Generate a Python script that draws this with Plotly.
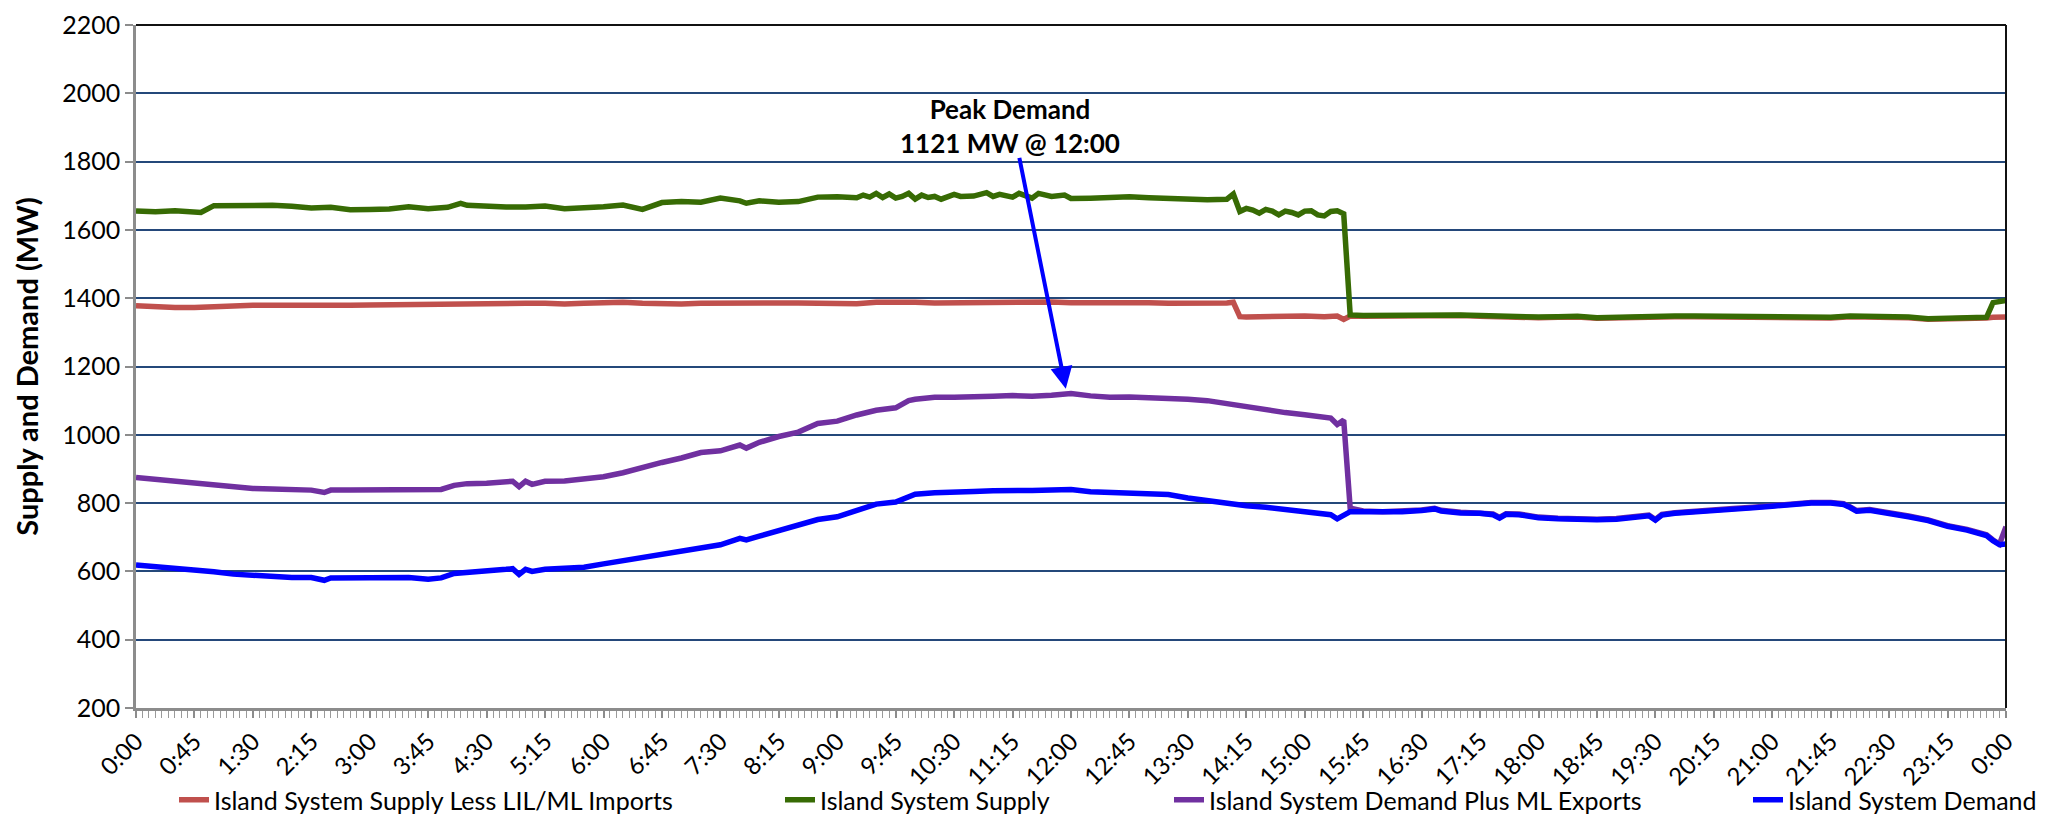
import plotly.graph_objects as go

# ---------------- data (time in minutes after midnight, values in MW) ----------------
t_red = [0, 15, 30, 45, 60, 75, 90, 105, 120, 135, 150, 165, 180, 195, 210, 225, 240, 255, 270, 285, 300, 315, 330, 345, 360,
         375, 390, 405, 420, 435, 450, 465, 480, 495, 510, 525, 540, 555, 570, 585, 600, 615, 630, 645, 660, 675, 690, 705, 720,
         735, 750, 765, 780, 795, 810, 825, 840, 845,
         850, 855, 870, 885, 900, 915, 925, 930, 935,
         945, 960, 975, 990, 1005, 1020, 1035, 1050, 1065, 1080, 1095, 1110, 1125, 1140, 1155, 1170, 1185, 1200, 1215, 1230,
         1245, 1260, 1275, 1290, 1305, 1320, 1335, 1350, 1365, 1380, 1395, 1410, 1425, 1430, 1440]
red = [1378, 1374, 1373, 1373, 1376, 1377, 1379, 1379, 1378, 1378, 1379, 1379, 1380, 1381, 1383, 1381, 1385, 1384, 1384, 1387, 1385, 1385, 1383, 1385, 1388,
       1388, 1385, 1383, 1383, 1385, 1386, 1383, 1387, 1386, 1386, 1385, 1384, 1384, 1388, 1389, 1388, 1386, 1387, 1388, 1390, 1389, 1391, 1389, 1387,
       1388, 1388, 1390, 1387, 1385, 1384, 1385, 1386, 1388,
       1346, 1345, 1347, 1347, 1348, 1346, 1348, 1338, 1348,
       1347, 1348, 1349, 1351, 1352, 1349, 1347, 1345, 1344, 1343, 1344, 1345, 1341, 1343, 1343, 1344, 1346, 1346, 1345, 1346,
       1346, 1346, 1345, 1340, 1342, 1346, 1345, 1346, 1343, 1338, 1338, 1341, 1342, 1344, 1345]

t_green = [0, 15, 30, 45, 50, 60, 75, 90, 105, 120, 135, 150, 165, 180, 195, 210, 225, 240, 250, 255, 270, 285, 300, 315, 330, 345, 360,
           375, 390, 405, 420, 435, 450, 465, 470, 480, 495, 510, 525, 540, 555,
           560, 565, 570, 575, 580, 585, 590, 595, 600, 605, 610, 615, 620, 630, 635, 645, 655, 660, 665, 675, 680, 690, 695, 705, 715, 720,
           735, 750, 765, 780, 795, 810, 825, 840, 845, 850, 855, 860, 865, 870, 875, 880, 885, 890, 895, 900, 905, 910, 915, 920, 925, 930, 935,
           945, 960, 975, 990, 1005, 1020, 1035, 1050, 1065, 1080, 1095, 1110, 1125, 1140, 1155, 1170, 1185, 1200, 1215, 1230,
           1245, 1260, 1275, 1290, 1305, 1320, 1335, 1350, 1365, 1380, 1395, 1410, 1425, 1430, 1440]
green = [1655, 1653, 1656, 1653, 1651, 1671, 1672, 1671, 1672, 1669, 1664, 1666, 1659, 1660, 1661, 1668, 1662, 1666, 1678, 1672, 1668, 1667, 1667, 1670, 1662, 1663, 1668,
         1673, 1660, 1680, 1683, 1681, 1693, 1685, 1678, 1685, 1681, 1683, 1696, 1697, 1694,
         1702, 1696, 1707, 1695, 1705, 1693, 1698, 1707, 1690, 1702, 1695, 1698, 1690, 1704, 1698, 1699, 1709, 1698, 1704, 1696, 1707, 1693, 1707, 1698, 1702, 1692,
         1693, 1695, 1697, 1694, 1692, 1689, 1688, 1690, 1705, 1654, 1663, 1658, 1649, 1660, 1655, 1644, 1655, 1651, 1644, 1655, 1656, 1644, 1641, 1654, 1656, 1647, 1351,
         1349, 1350, 1351, 1353, 1354, 1351, 1349, 1347, 1346, 1345, 1346, 1347, 1343, 1345, 1345, 1346, 1348, 1348, 1347, 1348,
         1348, 1348, 1347, 1342, 1344, 1348, 1347, 1348, 1345, 1340, 1340, 1343, 1344, 1387, 1393]

t_purple = [0, 15, 30, 45, 60, 75, 90, 105, 120, 135, 145, 150, 165, 180, 195, 210, 225, 235, 245, 255, 270, 285, 290, 295, 300, 305, 315, 330, 345, 360,
            375, 390, 405, 420, 435, 450, 465, 470, 480, 495, 510, 525, 540, 555, 570, 585, 595, 600, 615, 630, 645, 660, 675, 690, 705, 720,
            735, 750, 765, 780, 795, 810, 825, 840, 855, 870, 885, 900, 915, 920, 925, 930, 935,
            945, 960, 975, 990, 1000, 1005, 1020, 1035, 1045, 1050, 1055, 1065, 1080, 1095, 1110, 1125, 1140, 1155, 1165, 1170, 1175,
            1185, 1200, 1215, 1230, 1245, 1260, 1275, 1290, 1305, 1315, 1320, 1325, 1335, 1350, 1365, 1380, 1395, 1410, 1425, 1430, 1435, 1440]
purple = [875, 869, 866, 858, 851, 846, 843, 841, 839, 838, 831, 838, 838, 839, 838, 839, 839, 840, 852, 857, 858, 862, 864, 848, 864, 855, 864, 865, 870, 877,
          889, 905, 919, 932, 948, 953, 970, 961, 978, 995, 1008, 1033, 1040, 1058, 1072, 1079, 1100, 1104, 1110, 1110, 1113, 1113, 1115, 1113, 1116, 1121,
          1114, 1110, 1111, 1110, 1107, 1104, 1100, 1091, 1079, 1071, 1065, 1059, 1050, 1049, 1030, 1043, 785,
          777, 775, 777, 780, 785, 779, 773, 772, 768, 758, 769, 768, 759, 756, 753, 753, 755, 760, 765, 752, 767,
          772, 775, 779, 784, 788, 793, 798, 802, 802, 798, 789, 778, 781, 773, 762, 751, 734, 723, 707, 692, 680, 731]

t_blue = [0, 15, 30, 45, 60, 75, 90, 105, 120, 135, 145, 150, 165, 180, 195, 210, 225, 235, 245, 255, 270, 285, 290, 295, 300, 305, 315, 330, 345, 360,
          375, 390, 405, 420, 435, 450, 465, 470, 480, 495, 510, 525, 540, 555, 570, 585, 595, 600, 615, 630, 645, 660, 675, 690, 705, 720,
          735, 750, 765, 780, 795, 810, 825, 840, 855, 870, 885, 900, 915, 920, 925, 930, 935,
          945, 960, 975, 990, 1000, 1005, 1020, 1035, 1045, 1050, 1055, 1065, 1080, 1095, 1110, 1125, 1140, 1155, 1165, 1170, 1175,
          1185, 1200, 1215, 1230, 1245, 1260, 1275, 1290, 1305, 1315, 1320, 1325, 1335, 1350, 1365, 1380, 1395, 1410, 1425, 1430, 1435, 1440]
blue = [619, 614, 612, 606, 599, 592, 588, 584, 582, 582, 574, 581, 581, 580, 581, 582, 577, 581, 594, 598, 601, 606, 608, 591, 606, 600, 606, 608, 612, 622,
        632, 640, 649, 658, 671, 678, 697, 692, 703, 720, 736, 752, 760, 779, 797, 803, 819, 826, 830, 830, 834, 836, 838, 837, 838, 840,
        833, 831, 830, 829, 825, 815, 807, 800, 792, 788, 781, 777, 770, 766, 754, 766, 775,
        775, 773, 775, 778, 783, 777, 771, 770, 766, 756, 767, 766, 757, 754, 751, 751, 753, 758, 763, 750, 765,
        770, 773, 777, 782, 786, 791, 796, 800, 800, 796, 787, 776, 779, 771, 760, 749, 732, 721, 705, 690, 678, 680]

series_names = ["Island System Supply Less LIL/ML Imports", "Island System Supply",
                "Island System Demand Plus ML Exports", "Island System Demand"]
series_colors = ["#C0504D", "#376B04", "#7030A0", "#0000FF"]

tick_minutes = list(range(0, 1441, 45))
tick_labels = [f"{(m // 60) % 24}:{m % 60:02d}" for m in tick_minutes]

peak_text = "Peak Demand<br>1121 MW @ 12:00"

for tt, vv in [(t_red, red), (t_green, green), (t_purple, purple), (t_blue, blue)]:
    assert len(tt) == len(vv), (len(tt), len(vv))

FONT = "Lato, 'Open Sans', sans-serif"

fig = go.Figure()
all_series = [(t_red, red), (t_green, green), (t_purple, purple), (t_blue, blue)]
legend_ids = ["legend", "legend2", "legend3", "legend4"]
for (tt, vv), name, col, lg in zip(all_series, series_names, series_colors, legend_ids):
    fig.add_trace(go.Scatter(x=tt, y=vv, mode="lines", name=name,
                             line=dict(color=col, width=5.5), legend=lg))

# legends positioned like the reference (one per entry)
W, H = 2049, 817
ml, mr, mt, mb = 136, 43, 25, 109
pw = W - ml - mr
ph = H - mt - mb
def px_x(x):
    return (x - ml) / pw
def px_y(y):
    return (H - mb - y) / ph

legend_x_px = [174, 780, 1169, 1748]
leg_common = dict(orientation="h", yanchor="middle", xanchor="left",
                  font=dict(family=FONT, size=25, color="black"),
                  bgcolor="rgba(0,0,0,0)", itemwidth=30)
layout_legends = {}
for lg, xp in zip(legend_ids, legend_x_px):
    layout_legends[lg] = dict(x=px_x(xp), y=px_y(800), **leg_common)

fig.update_layout(
    width=W, height=H,
    margin=dict(l=ml, r=mr, t=mt, b=mb, autoexpand=False),
    paper_bgcolor="white", plot_bgcolor="white",
    font=dict(family=FONT, size=24, color="black"),
    showlegend=True,
    **layout_legends,
)

fig.update_xaxes(
    range=[0, 1440], automargin=False,
    tickmode="array", tickvals=tick_minutes, ticktext=tick_labels,
    tickangle=-45, tickfont=dict(family=FONT, size=24, color="black"),
    showgrid=False, zeroline=False,
    showline=True, linecolor="#8C8C8C", linewidth=2.5,
    ticks="outside", ticklen=7, tickcolor="#8C8C8C", tickwidth=1.5,
    minor=dict(dtick=5, tick0=0, ticks="outside", ticklen=7, tickcolor="#9A9A9A", tickwidth=1.2, showgrid=False),
)
fig.update_yaxes(
    range=[200, 2200], dtick=200, tick0=200, automargin=False,
    tickfont=dict(family=FONT, size=25, color="black"),
    showgrid=True, gridcolor="#24487A", gridwidth=1.5,
    zeroline=False,
    showline=True, linecolor="#8C8C8C", linewidth=2.5,
    ticks="outside", ticklen=8, tickcolor="#8C8C8C", tickwidth=1.5,
    title=dict(text="<b>Supply and Demand (MW)</b>", font=dict(family=FONT, size=29, color="black"), standoff=16),
)

# plot-area frame: top and right edges in black
fig.add_shape(type="line", xref="paper", yref="paper", x0=0, x1=1, y0=1, y1=1,
              line=dict(color="#111111", width=2))
fig.add_shape(type="line", xref="paper", yref="paper", x0=1, x1=1, y0=0, y1=1,
              line=dict(color="#111111", width=2))

# peak annotation text and arrow
fig.add_annotation(x=673, y=1905, xref="x", yref="y", text=f"<b>{peak_text}</b>",
                   showarrow=False, font=dict(family=FONT, size=26, color="black"), align="center")
fig.add_annotation(x=716, y=1135, xref="x", yref="y", ax=680, ay=1815, axref="x", ayref="y",
                   text="", showarrow=True, arrowhead=2, arrowsize=1.1, arrowwidth=4,
                   arrowcolor="#0000FF", standoff=0)

# remove the browser's default page margin so the figure fills the window exactly
fig.write_html("out.html", config={"displayModeBar": False},
               post_script="document.body.style.margin='0';document.body.style.padding='0';document.body.style.overflow='hidden';")
